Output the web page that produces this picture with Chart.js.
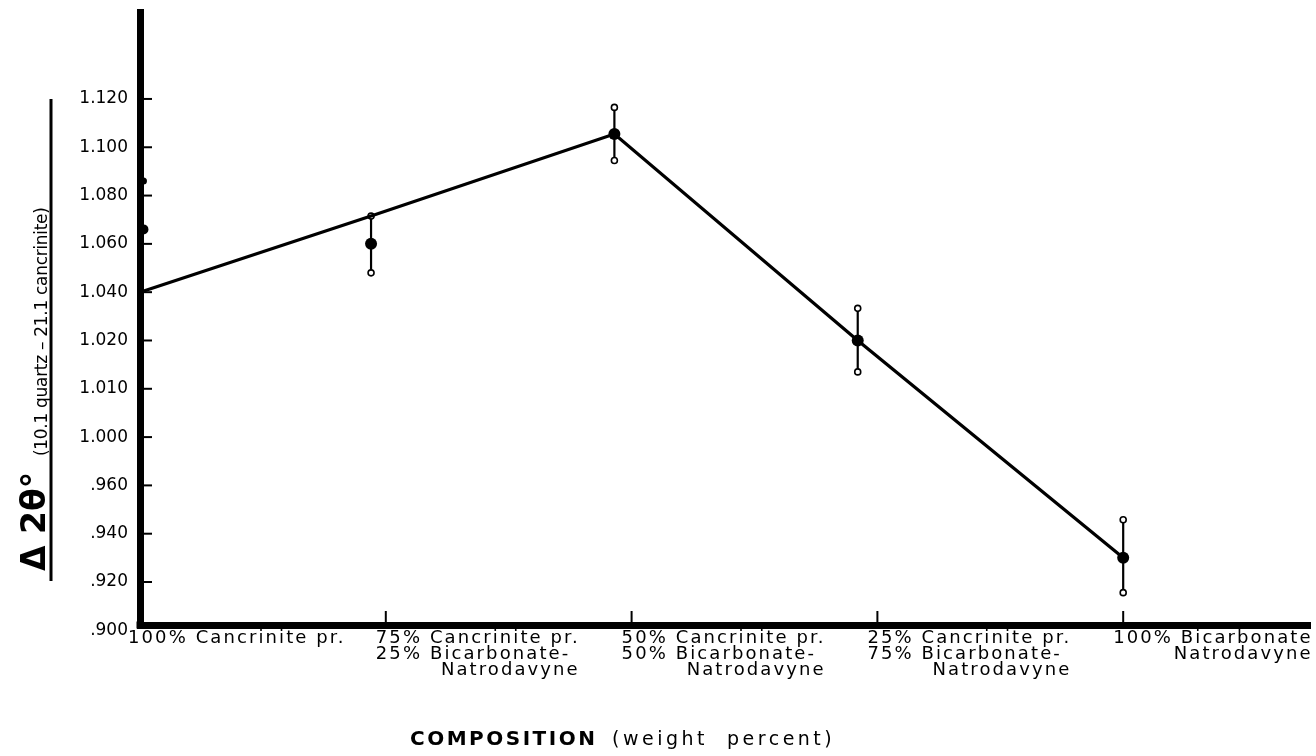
<!DOCTYPE html>
<html>
<head>
<meta charset="utf-8">
<script src="https://cdn.jsdelivr.net/npm/chart.js@4"></script>
<style>
  body { margin: 0; background: #fff; }
  canvas { display: block; }
</style>
</head>
<body>
<canvas id="chart" width="1316" height="756"></canvas>
<script>
const xTickLabels = [
    ["100% Cancrinite pr."],
    ["75% Cancrinite pr.", "25% Bicarbonate-", "Natrodavyne"],
    ["50% Cancrinite pr.", "50% Bicarbonate-", "Natrodavyne"],
    ["25% Cancrinite pr.", "75% Bicarbonate-", "Natrodavyne"],
    ["100% Bicarbonate", "Natrodavyne"]
];
const yTickValues = [0.900, 0.920, 0.940, 0.960, 1.000, 1.010, 1.020, 1.040, 1.060, 1.080, 1.100, 1.120];
const yTickLabels = [".900", ".920", ".940", ".960", "1.000", "1.010", "1.020", "1.040", "1.060", "1.080", "1.100", "1.120"];

// connecting line
const lineX = [0, 0.94, 1.93, 2.92, 4];
const lineY = [1.040, 1.0715, 1.1055, 1.020, 0.930];

// measured points (filled dots)
const meanX = [0.014, 0.014, 0.94, 1.93, 2.92, 4];
const meanY = [1.086, 1.066, 1.060, 1.1055, 1.020, 0.930];
const meanSize = [3.5, 5, 6, 6, 6, 6];

// error bars
const errX = [0.94, 1.93, 2.92, 4];
const errLow = [1.048, 1.0945, 1.0135, 0.9156];
const errHigh = [1.0715, 1.1165, 1.0333, 0.9458];

// the printed y axis is not linear: ticks are evenly spaced, so map a value onto tick positions
function toAxis(v) {
    for (let i = 0; i < yTickValues.length - 1; i++) {
        const a = yTickValues[i], b = yTickValues[i + 1];
        if (v <= b || i === yTickValues.length - 2) {
            return i + (v - a) / (b - a);
        }
    }
}

const datasets = [];
datasets.push({
    data: meanX.map((x, i) => ({ x: x, y: toAxis(meanY[i]) })),
    pointRadius: meanSize,
    pointBackgroundColor: "#000",
    pointBorderWidth: 0,
    showLine: false,
    clip: false
});
datasets.push({
    data: lineX.map((x, i) => ({ x: x, y: toAxis(lineY[i]) })),
    showLine: true,
    borderColor: "#000",
    borderWidth: 3.2,
    pointRadius: 0,
    tension: 0,
    clip: false
});
errX.forEach((x, i) => {
    datasets.push({
        data: [{ x: x, y: toAxis(errLow[i]) }, { x: x, y: toAxis(errHigh[i]) }],
        showLine: true,
        borderColor: "#000",
        borderWidth: 2.2,
        pointRadius: 3,
        pointBackgroundColor: "#fff",
        pointBorderColor: "#000",
        pointBorderWidth: 1.6,
        clip: false
    });
});

const FONT = "'DejaVu Sans', sans-serif";

const decor = {
    id: "decor",
    afterDraw(chart) {
        const { ctx, chartArea: a, scales: { x, y } } = chart;
        ctx.save();
        ctx.fillStyle = "#000";
        ctx.strokeStyle = "#000";
        ctx.fillRect(a.left - 3.5, a.bottom - 3.5, 7, 7);

        // inward tick marks
        ctx.lineWidth = 2;
        yTickLabels.forEach((t, i) => {
            if (i === 0) return;
            const py = y.getPixelForValue(i);
            ctx.beginPath();
            ctx.moveTo(a.left + 3, py);
            ctx.lineTo(a.left + 12, py);
            ctx.stroke();
        });

        // x labels
        ctx.font = "18px " + FONT;
        ctx.letterSpacing = "2.1px";
        ctx.textBaseline = "alphabetic";
        xTickLabels.forEach((lines, i) => {
            const px = x.getPixelForValue(i);
            if (i > 0) {
                ctx.beginPath();
                ctx.moveTo(px, a.bottom - 3);
                ctx.lineTo(px, a.bottom - 14);
                ctx.stroke();
            }
            const x0 = px - (i === 0 ? 12 : 10);
            const maxW = Math.max(...lines.map(l => ctx.measureText(l).width));
            lines.forEach((line, j) => {
                const by = a.bottom + 18 + j * 16;
                if (line.includes("%")) {
                    ctx.textAlign = "left";
                    ctx.fillText(line, x0, by);
                } else {
                    ctx.textAlign = "right";
                    ctx.fillText(line, x0 + maxW, by);
                }
            });
        });

        // x title
        ctx.textAlign = "left";
        ctx.font = "bold 20px " + FONT;
        ctx.letterSpacing = "2.5px";
        ctx.fillText("COMPOSITION", 410, 745);
        ctx.font = "19px " + FONT;
        ctx.letterSpacing = "3.5px";
        ctx.fillText("(weight  percent)", 612, 745);
        ctx.letterSpacing = "0px";

        // y title
        ctx.save();
        ctx.translate(45, 571);
        ctx.rotate(-Math.PI / 2);
        ctx.font = "bold 33px " + FONT;
        ctx.fillText("\u0394 2\u03B8\u00B0", 0, 0);
        ctx.restore();
        ctx.save();
        ctx.translate(47, 456);
        ctx.rotate(-Math.PI / 2);
        ctx.font = "17px " + FONT;
        ctx.letterSpacing = "-0.3px";
        ctx.fillText("(10.1 quartz \u2013 21.1 cancrinite)", 0, 0);
        ctx.restore();
        ctx.lineWidth = 3;
        ctx.beginPath();
        ctx.moveTo(51, 99);
        ctx.lineTo(51, 581);
        ctx.stroke();

        ctx.restore();
    }
};

new Chart(document.getElementById("chart"), {
    type: "scatter",
    data: { datasets: datasets },
    options: {
        responsive: false,
        animation: false,
        layout: { padding: { left: 0, top: 12, right: 4, bottom: 0 } },
        plugins: { legend: { display: false }, tooltip: { enabled: false } },
        scales: {
            x: {
                type: "linear",
                min: 0,
                max: 4.76,
                grid: { display: false },
                ticks: { display: false },
                border: { display: true, width: 7, color: "#000" },
                afterFit(scale) { scale.height = 131; }
            },
            y: {
                type: "linear",
                min: 0.11,
                max: 12.8,
                grid: { display: false },
                border: { display: true, width: 7, color: "#000" },
                afterBuildTicks(scale) {
                    scale.ticks = yTickValues.map((v, i) => ({ value: i }));
                },
                ticks: {
                    color: "#000",
                    padding: 4,
                    font: { family: FONT, size: 17 },
                    callback: (value) => yTickLabels[Math.round(value)]
                },
                afterFit(scale) {
                    scale.width = 140;
                    scale.paddingTop = 0;
                    scale.paddingBottom = 0;
                }
            }
        }
    },
    plugins: [decor]
});
</script>
</body>
</html>
